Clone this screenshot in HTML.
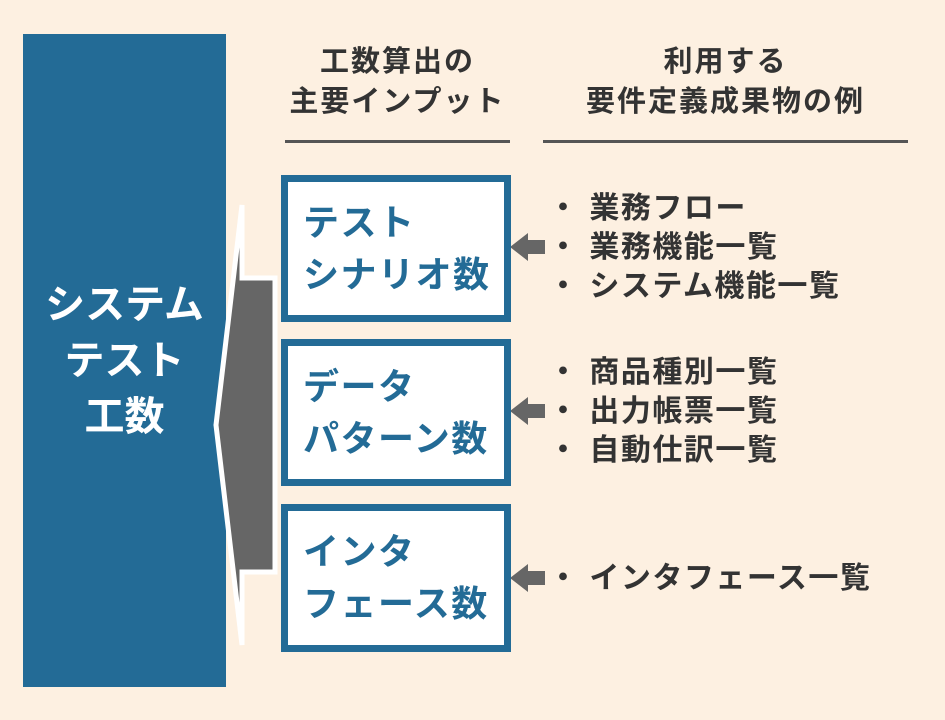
<!DOCTYPE html>
<html><head><meta charset="utf-8"><style>
body{margin:0;width:945px;height:720px;background:#fdf0e1;position:relative;overflow:hidden;font-family:"Liberation Sans","Noto Sans CJK JP",sans-serif;font-weight:bold}
.a{position:absolute}
.big{left:23px;top:34px;width:203px;height:653px;background:#236b96;color:#fff;font-size:40px;line-height:56px;text-align:center;display:flex;align-items:center;justify-content:center}
.box{left:281px;width:230px;background:#fff;border:7px solid #236b96;color:#236b96;font-size:36px;line-height:52px;padding-left:15px;box-sizing:border-box;display:flex;flex-direction:column;justify-content:center;white-space:nowrap;letter-spacing:1.5px}
.hd{color:#333;font-size:29px;line-height:40px;text-align:center;letter-spacing:2px;white-space:nowrap}
.ln{height:3px;background:#555;top:140px}
.li{color:#333;font-size:30px;line-height:39px;left:548px;white-space:nowrap;letter-spacing:1.5px}
</style></head><body>
<div class="a big">システム<br>テスト<br>工数</div>
<svg class="a" style="left:0;top:0" width="945" height="720">
<polygon points="242,205 242,278 275,278 275,572 242,572 242,645 216,425" fill="#666" stroke="#fff" stroke-width="5" stroke-linejoin="miter"/>
<g fill="#666">
<polygon points="510,247 528,233 528,240 545,240 545,254 528,254 528,261"/>
<polygon points="510,411 528,397 528,404 545,404 545,418 528,418 528,425"/>
<polygon points="510,578 528,564 528,571 545,571 545,585 528,585 528,592"/>
</g>
</svg>
<div class="a box" style="top:175px;height:147px"><div>テスト</div><div>シナリオ数</div></div>
<div class="a box" style="top:339px;height:147px"><div>データ</div><div>パターン数</div></div>
<div class="a box" style="top:504px;height:148px"><div>インタ</div><div>フェース数</div></div>
<div class="a hd" style="left:275px;width:245px;top:42px">工数算出の<br>主要インプット</div>
<div class="a hd" style="left:543px;width:365px;top:42px">利用する<br>要件定義成果物の例</div>
<div class="a ln" style="left:285px;width:225px"></div>
<div class="a ln" style="left:543px;width:365px"></div>
<div class="a li" style="top:189px">・ 業務フロー<br>・ 業務機能一覧<br>・ システム機能一覧</div>
<div class="a li" style="top:353px">・ 商品種別一覧<br>・ 出力帳票一覧<br>・ 自動仕訳一覧</div>
<div class="a li" style="top:559px">・ インタフェース一覧</div>
</body></html>
